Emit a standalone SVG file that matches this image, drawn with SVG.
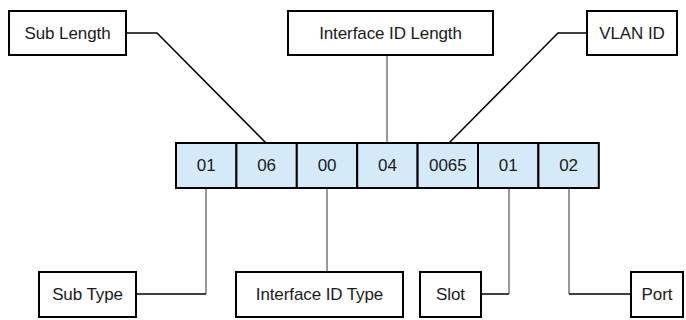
<svg xmlns="http://www.w3.org/2000/svg" width="686" height="320" viewBox="0 0 686 320">
<style>
.box{fill:#ffffff;stroke:#000000;stroke-width:2}
.cell{fill:#d5eaf9;stroke:#000000;stroke-width:2}
.t{font-family:"Liberation Sans",Arial,sans-serif;font-size:17px;letter-spacing:-0.1px;fill:#1a1a1a;text-anchor:middle}
.c{fill:none;stroke:#000000;stroke-width:1.5}
.v{fill:none;stroke:#333333;stroke-width:1}
</style>
<rect width="686" height="320" fill="#ffffff"/>
<g id="connectors">
<polyline class="c" points="126,33 157,33 266,143"/>
<line class="v" x1="387" y1="55" x2="387" y2="143"/>
<polyline class="c" points="587,33 558,33 449,143"/>
<polyline class="c" points="136,294 206,294"/>
<line class="v" x1="206" y1="188" x2="206" y2="294"/>
<line class="v" x1="327" y1="188" x2="327" y2="272"/>
<polyline class="c" points="481,294 509,294"/>
<line class="v" x1="509" y1="188" x2="509" y2="294"/>
<polyline class="c" points="631,294 569,294"/>
<line class="v" x1="569" y1="188" x2="569" y2="294"/>
</g>
<g id="sub-length"><rect class="box" x="9" y="11" width="117" height="44"/><text class="t" x="67.5" y="39">Sub Length</text></g>
<g id="interface-id-length"><rect class="box" x="288" y="11" width="205" height="44"/><text class="t" x="390.5" y="39">Interface ID Length</text></g>
<g id="vlan-id"><rect class="box" x="587" y="11" width="90" height="44"/><text class="t" x="632" y="39">VLAN ID</text></g>
<g id="fields">
<g id="cell-1"><rect class="cell" x="176" y="143" width="60.4" height="45"/><text class="t" x="206.2" y="171">01</text></g>
<g id="cell-2"><rect class="cell" x="236.4" y="143" width="60.4" height="45"/><text class="t" x="266.6" y="171">06</text></g>
<g id="cell-3"><rect class="cell" x="296.8" y="143" width="60.4" height="45"/><text class="t" x="327" y="171">00</text></g>
<g id="cell-4"><rect class="cell" x="357.2" y="143" width="60.4" height="45"/><text class="t" x="387.4" y="171">04</text></g>
<g id="cell-5"><rect class="cell" x="417.6" y="143" width="60.4" height="45"/><text class="t" x="447.8" y="171">0065</text></g>
<g id="cell-6"><rect class="cell" x="478" y="143" width="60.4" height="45"/><text class="t" x="508.2" y="171">01</text></g>
<g id="cell-7"><rect class="cell" x="538.4" y="143" width="60.4" height="45"/><text class="t" x="568.6" y="171">02</text></g>
</g>
<g id="sub-type"><rect class="box" x="39" y="272" width="97" height="45"/><text class="t" x="87.5" y="300">Sub Type</text></g>
<g id="interface-id-type"><rect class="box" x="236" y="272" width="167" height="45"/><text class="t" x="319.5" y="300">Interface ID Type</text></g>
<g id="slot"><rect class="box" x="420" y="272" width="61" height="45"/><text class="t" x="450.5" y="300">Slot</text></g>
<g id="port"><rect class="box" x="631" y="272" width="52" height="45"/><text class="t" x="657" y="300">Port</text></g>
</svg>
